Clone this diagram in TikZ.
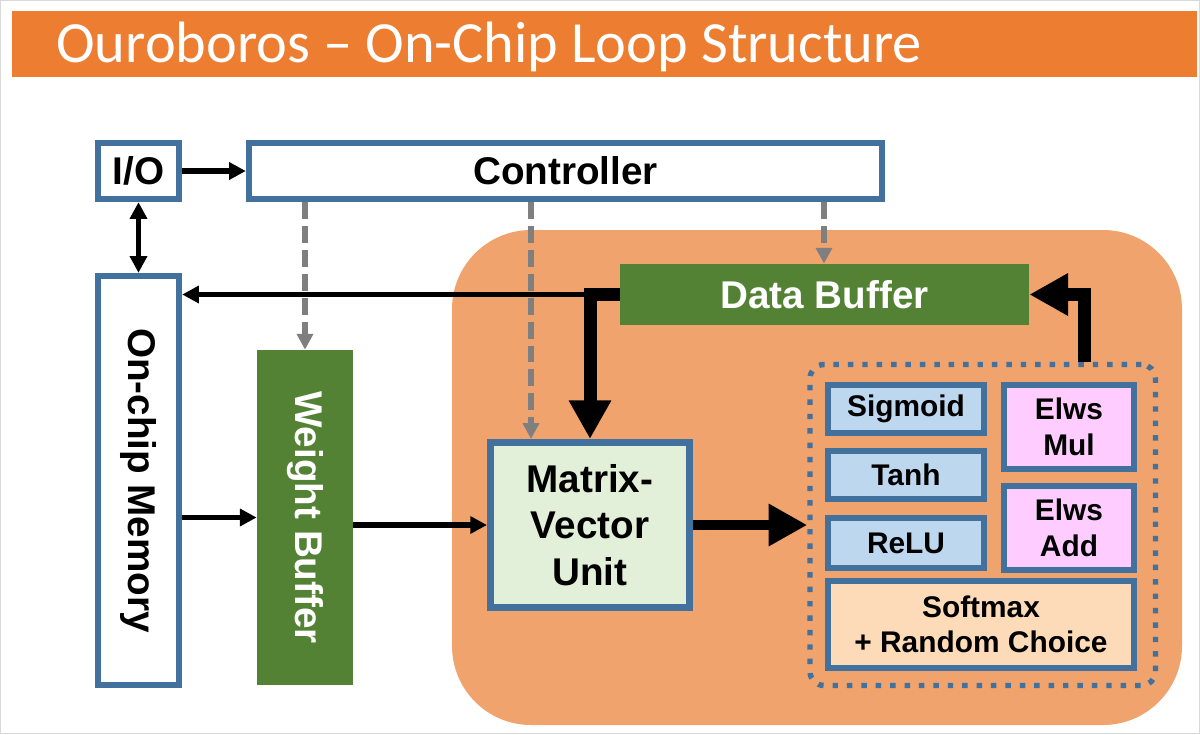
\documentclass[tikz,border=0pt]{standalone}
\usepackage{fontspec}
\setmainfont{Liberation Sans}
\newfontfamily\titlefont{Carlito}
\usetikzlibrary{arrows.meta,calc}
\definecolor{hdr}{HTML}{ED7D31}
\definecolor{region}{HTML}{F1A36D}
\definecolor{bblue}{HTML}{41719C}
\definecolor{bgreen}{HTML}{548235}
\definecolor{mvfill}{HTML}{E2F0D9}
\definecolor{lblue}{HTML}{BDD7EE}
\definecolor{lpink}{HTML}{FFCCFF}
\definecolor{lpeach}{HTML}{FDDBB8}
\definecolor{dgray}{HTML}{7F7F7F}
\definecolor{frame}{HTML}{D9D9D9}
\begin{document}
\begin{tikzpicture}[x=0.02cm,y=-0.02cm,
  sz/.style 2 args={minimum width={#1*0.02cm}, minimum height={#2*0.02cm}},
  bigfont/.style={font=\bfseries\fontsize{22}{26.6}\selectfont},
  smallfont/.style={font=\bfseries\fontsize{17}{20.2}\selectfont},
  bluebox/.style={draw=bblue, line width=3.6pt, inner sep=0pt, align=center},
  greenbox/.style={fill=bgreen, draw=none, inner sep=0pt, text=white, align=center},
  arr/.style={line width=3.1pt, -{Triangle[length=9.5pt,width=9.5pt]}},
  darr/.style={line width=3.1pt, {Triangle[length=9.5pt,width=9.5pt]}-{Triangle[length=9.5pt,width=9.5pt]}},
  bigarr/.style={line width=7.4pt, -{Triangle[length=22pt,width=22.7pt]}},
  ctl/.style={draw=dgray, line width=3.2pt, dash pattern=on 9.6pt off 4pt, -{Triangle[length=9pt,width=9pt]}}
]
\useasboundingbox (0,0) rectangle (1200,734);
\draw[frame, line width=0.6pt] (0.5,0.5) rectangle (1199.5,733.5);
% title
\fill[hdr] (12,11) rectangle (1197,77);
\node[anchor=base west, text=white, inner sep=0pt, font=\titlefont\fontsize{33.2}{38}\selectfont] (title) at (56,62) {Ouroboros – On-Chip Loop Structure};
% on-chip region
\fill[region, rounded corners=45pt] (452,230) rectangle (1182,725);
% dotted group
\node[draw=bblue, line width=3.1pt, dash pattern=on 3.1pt off 5.1pt, rounded corners=8pt, inner sep=0pt, sz={345.5}{321}] (dot) at (982.75,525) {};
% main blocks
\node[bluebox, fill=white, bigfont, sz={81}{56}] (io) at (138.5,171) {I/O};
\node[bluebox, fill=white, bigfont, sz={633}{56}] (ctrl) at (565.5,171) {Controller};
\node[bluebox, fill=white, bigfont, sz={81}{409}] (mem) at (138.5,480.5) {\rotatebox{-90}{On-chip Memory}};
\node[greenbox, bigfont, sz={96}{335}] (wb) at (305,517.5) {\rotatebox{-90}{Weight Buffer}};
\node[greenbox, bigfont, sz={409}{61}] (db) at (824.5,294.5) {Data Buffer};
\node[bluebox, fill=mvfill, line width=4pt, bigfont, sz={199}{165}] (mvu) at (590,525) {Matrix-\\Vector\\Unit};
% function units
\node[bluebox, fill=lblue, smallfont, sz={156}{48}] (sig) at (906,409) {Sigmoid};
\node[bluebox, fill=lblue, smallfont, sz={156}{48}] (tanh) at (906,475) {Tanh};
\node[bluebox, fill=lblue, smallfont, sz={156}{50}] (relu) at (906,543) {ReLU};
\node[bluebox, fill=lpink, smallfont, sz={130}{84}] (mul) at (1069,427) {Elws\\Mul};
\node[bluebox, fill=lpink, smallfont, sz={130}{84}] (add) at (1069,528) {Elws\\Add};
\node[bluebox, fill=lpeach, smallfont, sz={306}{87}] (soft) at (981,624.5) {Softmax\\+ Random Choice};
% helper coordinates
\coordinate (g1) at (305,0);
\coordinate (g2) at (531,0);
\coordinate (g3) at (824,0);
\coordinate (j1) at (590,0);
\coordinate (j2) at (1084,0);
% control (dashed)
\draw[ctl] (ctrl.south -| g1) -- (wb.north -| g1);
\draw[ctl] (ctrl.south -| g2) -- (mvu.north -| g2);
\draw[ctl] (ctrl.south -| g3) -- (db.north -| g3);
% data paths
\draw[arr] (io.east) -- (ctrl.west |- io.east);
\draw[darr] (io.south) -- (mem.north);
\draw[bigarr] (db.west) -| (j1 |- mvu.north);
\draw[arr] (db.west) -- (mem.east |- db.west);
\draw[arr] (mem.east |- wb.west) -- (wb.west);
\draw[arr] (wb.east |- mvu.west) -- (mvu.west);
\draw[bigarr, line width=6pt] (mvu.east) -- (dot.west |- mvu.east);
\draw[bigarr] (dot.north -| j2) |- (db.east);
\end{tikzpicture}
\end{document}
